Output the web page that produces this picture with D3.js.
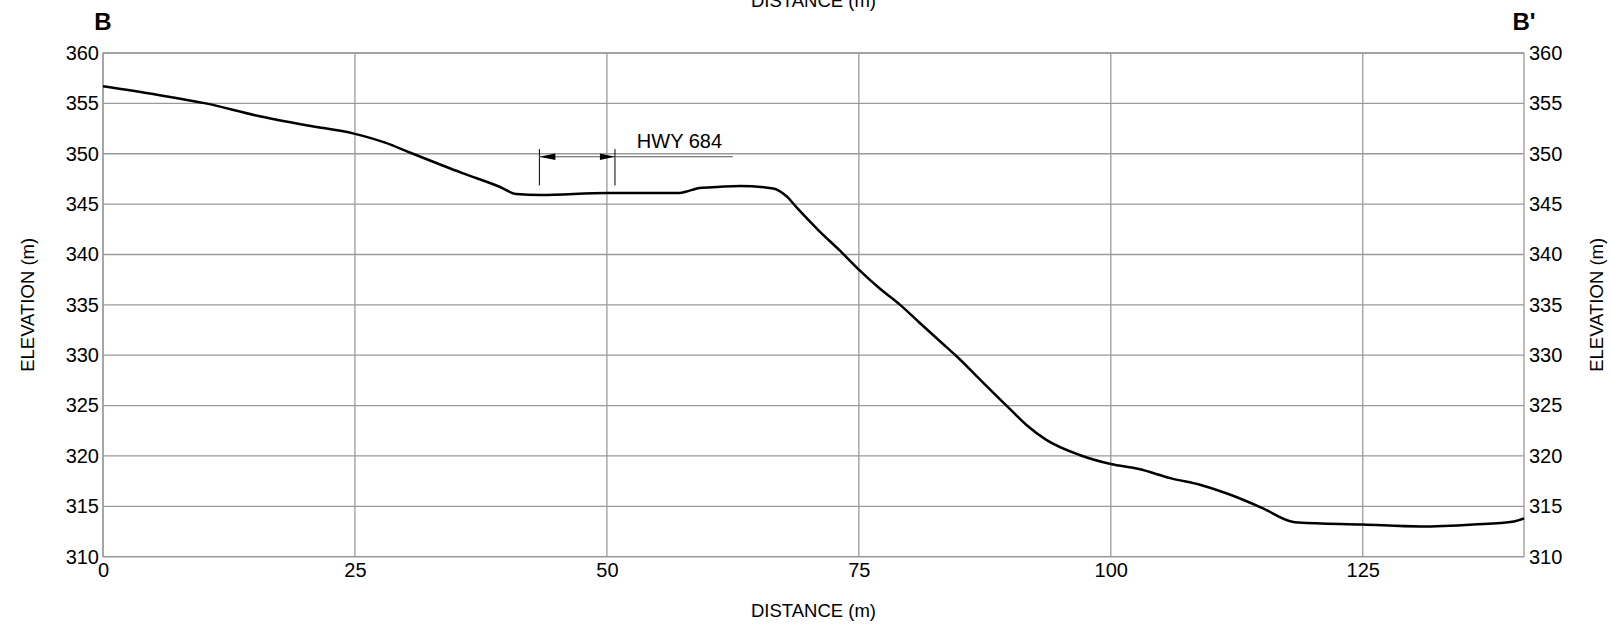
<!DOCTYPE html>
<html>
<head>
<meta charset="utf-8">
<script src="https://cdn.jsdelivr.net/npm/d3@7"></script>
<style>
  html, body { margin: 0; padding: 0; background: #fff; }
  svg { display: block; font-family: "Liberation Sans", Arial, sans-serif; }
</style>
</head>
<body>
<svg id="chart"></svg>
<script>
// profile B - B' (distance in m, elevation in m)
var distance = [0, 5.1, 10.2, 15.2, 20.3, 24.9, 28.0, 30.5, 35.6, 39.4, 41.0, 43.4, 50.0, 57.2, 57.9,
  58.6, 59.2, 61.0, 63.2, 66.5, 67.8, 68.8, 71.1, 73.1, 75.0, 77.1, 79.1, 81.05, 83.7, 84.7, 87.0,
  89.65, 91.6, 93.6, 96.9, 100, 102.8, 105.9, 109.0, 112.0, 115.1, 117.9, 118.6, 125, 130.7, 136,
  140, 141];
var elevation = [356.7, 355.9, 355.0, 353.8, 352.8, 352.0, 351.1, 350.1, 348.1, 346.7, 346.0, 345.9,
  346.1, 346.1, 346.25, 346.45, 346.6, 346.7, 346.8, 346.55, 345.8, 344.7, 342.3, 340.4, 338.5, 336.6,
  335.0, 333.2, 330.8, 329.9, 327.6, 325.0, 323.1, 321.6, 320.1, 319.2, 318.7, 317.8, 317.1, 316.1,
  314.8, 313.5, 313.4, 313.2, 313.0, 313.2, 313.5, 313.8];

var xTicks = [0, 25, 50, 75, 100, 125];
var yTicks = [310, 315, 320, 325, 330, 335, 340, 345, 350, 355, 360];
var xDomain = [0, 141];
var yDomain = [310, 360];

// highway annotation
var hwyLabel = "HWY 684";
var hwyFrom = 43.3, hwyTo = 50.8, hwyLineEnd = 62.5, hwyElev = 349.7, hwyLabelAt = 57.2;

var width = 1610, height = 626;
var margins = {top: 53, right: 86, bottom: 69.3, left: 103};
var pw = width - margins.left - margins.right;
var ph = height - margins.top - margins.bottom;

var svg = d3.select('#chart').attr('width', width).attr('height', height);
var g = svg.append('g').attr('transform', 'translate(' + margins.left + ',' + margins.top + ')');

var xScale = d3.scaleLinear().domain(xDomain).range([0, pw]);
var yScale = d3.scaleLinear().domain(yDomain).range([ph, 0]);

// grid
g.append('g').selectAll('line').data(yTicks).enter().append('line')
  .attr('x1', 0).attr('x2', pw)
  .attr('y1', d => yScale(d)).attr('y2', d => yScale(d))
  .attr('stroke', '#9a9a9a').attr('stroke-width', 1.3);
g.append('g').selectAll('line').data(xTicks).enter().append('line')
  .attr('y1', 0).attr('y2', ph)
  .attr('x1', d => xScale(d)).attr('x2', d => xScale(d))
  .attr('stroke', '#9a9a9a').attr('stroke-width', 1.3);
g.append('rect').attr('width', pw).attr('height', ph)
  .attr('fill', 'none').attr('stroke', '#9a9a9a').attr('stroke-width', 1.3);

// axes (labels only)
function styleAxis(sel) {
  sel.select('.domain').remove();
  sel.selectAll('line').remove();
  sel.selectAll('text').attr('font-size', '20px').attr('fill', '#000')
    .attr('font-family', '"Liberation Sans", Arial, sans-serif');
}
g.append('g').call(d3.axisLeft(yScale).tickValues(yTicks).tickSize(0).tickPadding(4)).call(styleAxis);
g.append('g').attr('transform', 'translate(' + pw + ',0)')
  .call(d3.axisRight(yScale).tickValues(yTicks).tickSize(0).tickPadding(5)).call(styleAxis);
g.append('g').attr('transform', 'translate(0,' + ph + ')')
  .call(d3.axisBottom(xScale).tickValues(xTicks).tickSize(0).tickPadding(6)).call(styleAxis);

// profile line
var line = d3.line()
  .x((d, i) => xScale(distance[i]))
  .y((d, i) => yScale(elevation[i]))
  .curve(d3.curveMonotoneX);
g.append('path').datum(distance).attr('d', line)
  .attr('fill', 'none').attr('stroke', '#000').attr('stroke-width', 2.5)
  .attr('stroke-linejoin', 'round');

// HWY annotation
var ay = yScale(hwyElev);
var ax1 = xScale(hwyFrom), ax2 = xScale(hwyTo);
var ann = g.append('g');
[ax1, ax2].forEach(function(x) {
  ann.append('line').attr('x1', x).attr('x2', x).attr('y1', ay - 7.7).attr('y2', ay + 28.7)
    .attr('stroke', '#000').attr('stroke-width', 1);
});
ann.append('line').attr('x1', ax1).attr('x2', xScale(hwyLineEnd)).attr('y1', ay).attr('y2', ay)
  .attr('stroke', '#555').attr('stroke-width', 1);
ann.append('path').attr('d', 'M' + ax1 + ',' + ay + 'L' + (ax1 + 16) + ',' + (ay - 3.3) + 'L' + (ax1 + 16) + ',' + (ay + 3.3) + 'Z')
  .attr('fill', '#000');
ann.append('path').attr('d', 'M' + ax2 + ',' + ay + 'L' + (ax2 - 15) + ',' + (ay - 3.3) + 'L' + (ax2 - 15) + ',' + (ay + 3.3) + 'Z')
  .attr('fill', '#000');
ann.append('text').attr('x', xScale(hwyLabelAt)).attr('y', ay - 9)
  .attr('text-anchor', 'middle').attr('font-size', '20px').text(hwyLabel);

// axis titles
svg.append('text').attr('x', margins.left + pw / 2).attr('y', 617)
  .attr('text-anchor', 'middle').attr('font-size', '18.5px').text('DISTANCE (m)');
svg.append('text').attr('x', margins.left + pw / 2).attr('y', 6.5)
  .attr('text-anchor', 'middle').attr('font-size', '18.5px').text('DISTANCE (m)');
svg.append('text').attr('transform', 'translate(33.5,' + (margins.top + ph / 2) + ') rotate(-90)')
  .attr('text-anchor', 'middle').attr('font-size', '18.5px').text('ELEVATION (m)');
svg.append('text').attr('transform', 'translate(1603,' + (margins.top + ph / 2) + ') rotate(-90)')
  .attr('text-anchor', 'middle').attr('font-size', '18.5px').text('ELEVATION (m)');

// section labels
svg.append('text').attr('x', margins.left).attr('y', 30).attr('text-anchor', 'middle')
  .attr('font-size', '24px').attr('font-weight', 'bold').text('B');
svg.append('text').attr('x', margins.left + pw).attr('y', 30).attr('text-anchor', 'middle')
  .attr('font-size', '24px').attr('font-weight', 'bold').text("B'");
svg.append('text').attr('x', margins.left).attr('y', 642.5).attr('text-anchor', 'middle')
  .attr('font-size', '24px').attr('font-weight', 'bold').text('C');
svg.append('text').attr('x', margins.left + pw).attr('y', 642.5).attr('text-anchor', 'middle')
  .attr('font-size', '24px').attr('font-weight', 'bold').text("C'");
</script>
</body>
</html>
